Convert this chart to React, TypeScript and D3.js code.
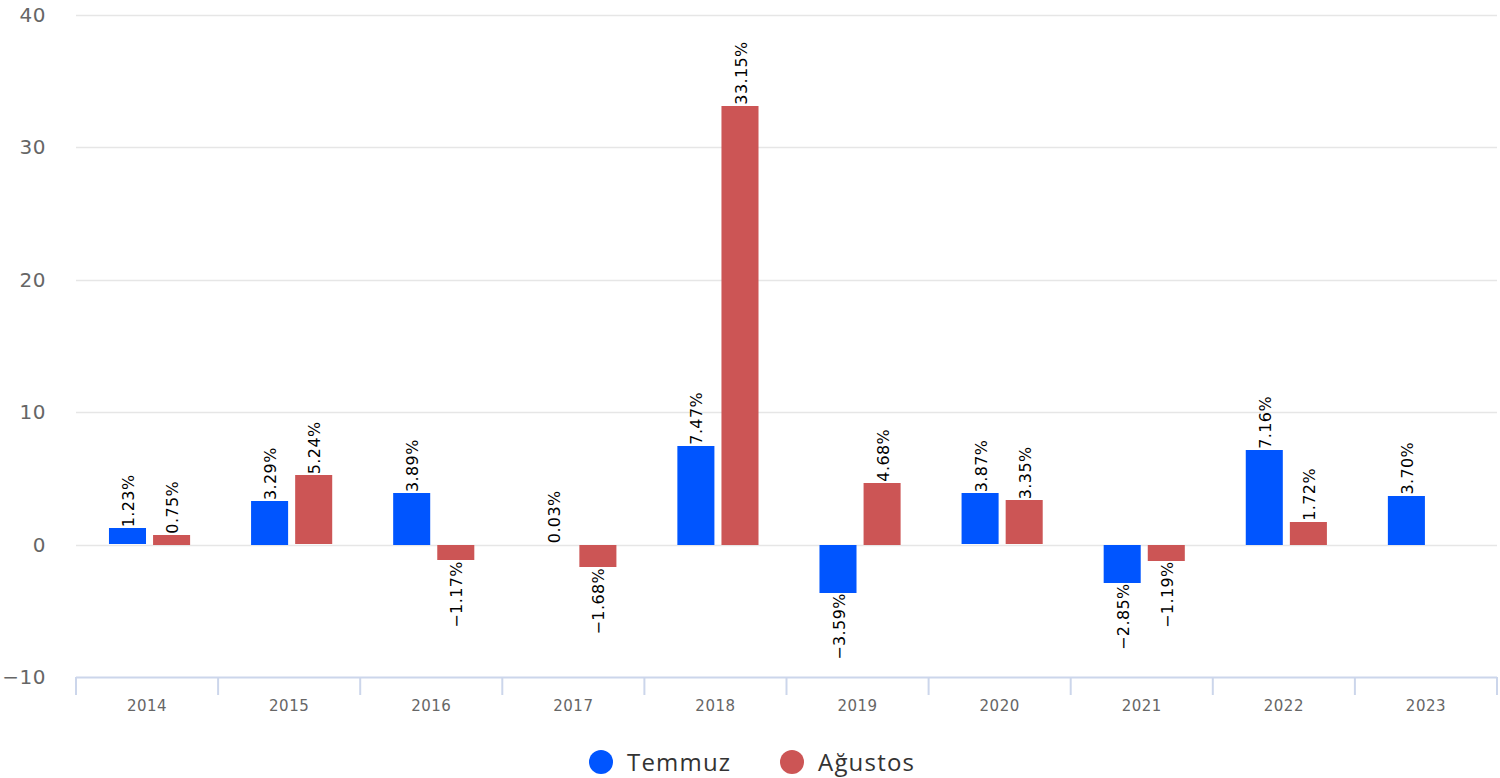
import React from "react";
import * as d3 from "d3";

// years on the x axis
const years = ["2014", "2015", "2016", "2017", "2018", "2019", "2020", "2021", "2022", "2023"];
// monthly change, %
const temmuz = [1.23, 3.29, 3.89, 0.03, 7.47, -3.59, 3.87, -2.85, 7.16, 3.7];
const agustos = [0.75, 5.24, -1.17, -1.68, 33.15, 4.68, 3.35, -1.19, 1.72, null];
const yTicks = [-10, 0, 10, 20, 30, 40];

const seriesNames = ["Temmuz", "Ağustos"];
const seriesColors = ["#0055ff", "#cc5555"];

const width = 1500;
const height = 778;
const margin = { top: 15, right: 3, bottom: 101, left: 76 };
const font = "'DejaVu Sans', Verdana, sans-serif";

const App = () => {
  const x = d3
    .scaleBand()
    .domain(years)
    .range([margin.left, width - margin.right])
    .padding(0);

  const bw = x.bandwidth();
  // two bars per year, inside the band
  const inner = d3
    .scaleBand()
    .domain(seriesNames)
    .range([bw * 0.232, bw * 0.803])
    .paddingInner(0.16);

  const y = d3
    .scaleLinear()
    .domain([-10, 40])
    .range([height - margin.bottom, margin.top]);

  const fmtTick = d3.format("");
  const fmtLabel = d3.format(".2f");

  const series = [temmuz, agustos];
  const y0 = y(0);
  const axisY = height - margin.bottom;

  return (
    <svg
      width={width}
      height={height}
      style={{ position: "absolute", left: 0, top: 0 }}
      fontFamily={font}
    >
      {/* grid */}
      {yTicks.map((t) =>
        t === -10 ? null : (
          <line
            key={"g" + t}
            x1={margin.left}
            x2={width - margin.right}
            y1={Math.round(y(t)) + 0.5}
            y2={Math.round(y(t)) + 0.5}
            stroke="#e6e6e6"
            strokeWidth={1.5}
          />
        )
      )}
      {/* y labels */}
      {yTicks.map((t) => (
        <text
          key={"yl" + t}
          x={46}
          y={y(t)}
          dy="0.35em"
          textAnchor="end"
          fontSize={20}
          fill="#666666"
          letterSpacing={0.5}
        >
          {fmtTick(t)}
        </text>
      ))}

      {/* bars */}
      {series.map((vals, si) =>
        vals.map((v, i) => {
          if (v === null) return null;
          const bx = (x(years[i]) as number) + (inner(seriesNames[si]) as number);
          const top = Math.round(Math.min(y(v), y0));
          const h = Math.round(Math.abs(y(v) - y0));
          if (h < 1) return null;
          return (
            <rect
              key={"b" + si + i}
              x={bx}
              y={top}
              width={inner.bandwidth()}
              height={h}
              fill={seriesColors[si]}
            />
          );
        })
      )}

      {/* value labels */}
      {series.map((vals, si) =>
        vals.map((v, i) => {
          if (v === null) return null;
          const cx = (x(years[i]) as number) + (inner(seriesNames[si]) as number) + inner.bandwidth() / 2;
          const pos = v >= 0;
          const ay = pos ? y(v) - 1 : y(v) + 1;
          return (
            <text
              key={"l" + si + i}
              transform={`translate(${cx + 1},${ay}) rotate(-90)`}
              dy="0.35em"
              textAnchor={pos ? "start" : "end"}
              fontSize={16}
              letterSpacing={0.4}
              fill="#000000"
            >
              {fmtLabel(v) + "%"}
            </text>
          );
        })
      )}

      {/* x axis */}
      <line
        x1={margin.left}
        x2={width - margin.right}
        y1={axisY + 0.5}
        y2={axisY + 0.5}
        stroke="#ccd6eb"
        strokeWidth={2}
      />
      {years.concat(["end"]).map((yr, i) => {
        const tx = i < years.length ? (x(yr) as number) : width - margin.right;
        return (
          <line
            key={"t" + i}
            x1={tx}
            x2={tx}
            y1={axisY}
            y2={axisY + 18}
            stroke="#ccd6eb"
            strokeWidth={2}
          />
        );
      })}
      {years.map((yr) => (
        <text
          key={"xl" + yr}
          x={(x(yr) as number) + bw / 2}
          y={711}
          textAnchor="middle"
          fontSize={15}
          letterSpacing={0.5}
          fill="#666666"
        >
          {yr}
        </text>
      ))}

      {/* legend */}
      {seriesNames.map((name, si) => {
        const lx = si === 0 ? 601 : 792;
        return (
          <g key={"lg" + si}>
            <circle cx={lx} cy={762} r={12} fill={seriesColors[si]} />
            <text
              x={lx + 26}
              y={771}
              fontSize={24}
              fontFamily="'Open Sans', sans-serif"
              fontWeight={500}
              letterSpacing={1.2}
              fill="#333333"
            >
              {name}
            </text>
          </g>
        );
      })}
    </svg>
  );
};

export default App;
